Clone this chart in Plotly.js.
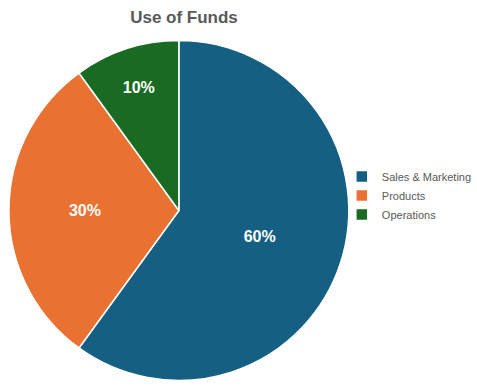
<!DOCTYPE html>
<html>
<head>
<meta charset="utf-8">
<script src="https://cdn.plot.ly/plotly-3.0.1.min.js"></script>
<style>html,body{margin:0;padding:0;background:#fff;}#chart{width:477px;height:388px;}</style>
</head>
<body>
<div id="chart"></div>
<script>
const categories = ["Sales & Marketing", "Products", "Operations"];
const shares = [60, 30, 10];
const colors = ["#156082", "#E97132", "#196B24"];

const W = 477, H = 388;
const trace = {
  type: "pie",
  labels: categories,
  values: shares,
  sort: false,
  direction: "clockwise",
  rotation: 0,
  marker: {colors: colors, line: {color: "#ffffff", width: 1.5}},
  textinfo: "percent",
  textposition: "inside",
  insidetextorientation: "horizontal",
  textfont: {family: "Liberation Sans, Arial, sans-serif", size: 16, color: "#ffffff", weight: "bold"},
  domain: {x: [9 / W, 351 / W], y: [1 - 381 / H, 1 - 40 / H]},
  hoverinfo: "none"
};
const layout = {
  width: W, height: H,
  margin: {l: 0, r: 0, t: 0, b: 0},
  paper_bgcolor: "#ffffff",
  showlegend: true,
  title: {
    text: "<b>Use of Funds</b>",
    x: 184 / W, xanchor: "center",
    y: 1 - 17 / H, yanchor: "middle",
    font: {family: "Liberation Sans, Arial, sans-serif", size: 17, color: "#595959"}
  },
  legend: {
    x: 344 / W, xanchor: "left",
    y: 1 - 162 / H, yanchor: "top",
    bgcolor: "rgba(0,0,0,0)",
    font: {family: "Liberation Sans, Arial, sans-serif", size: 11, color: "#595959"},
    tracegroupgap: 0
  }
};
Plotly.newPlot("chart", [trace], layout, {displayModeBar: false, staticPlot: true});
</script>
</body>
</html>
